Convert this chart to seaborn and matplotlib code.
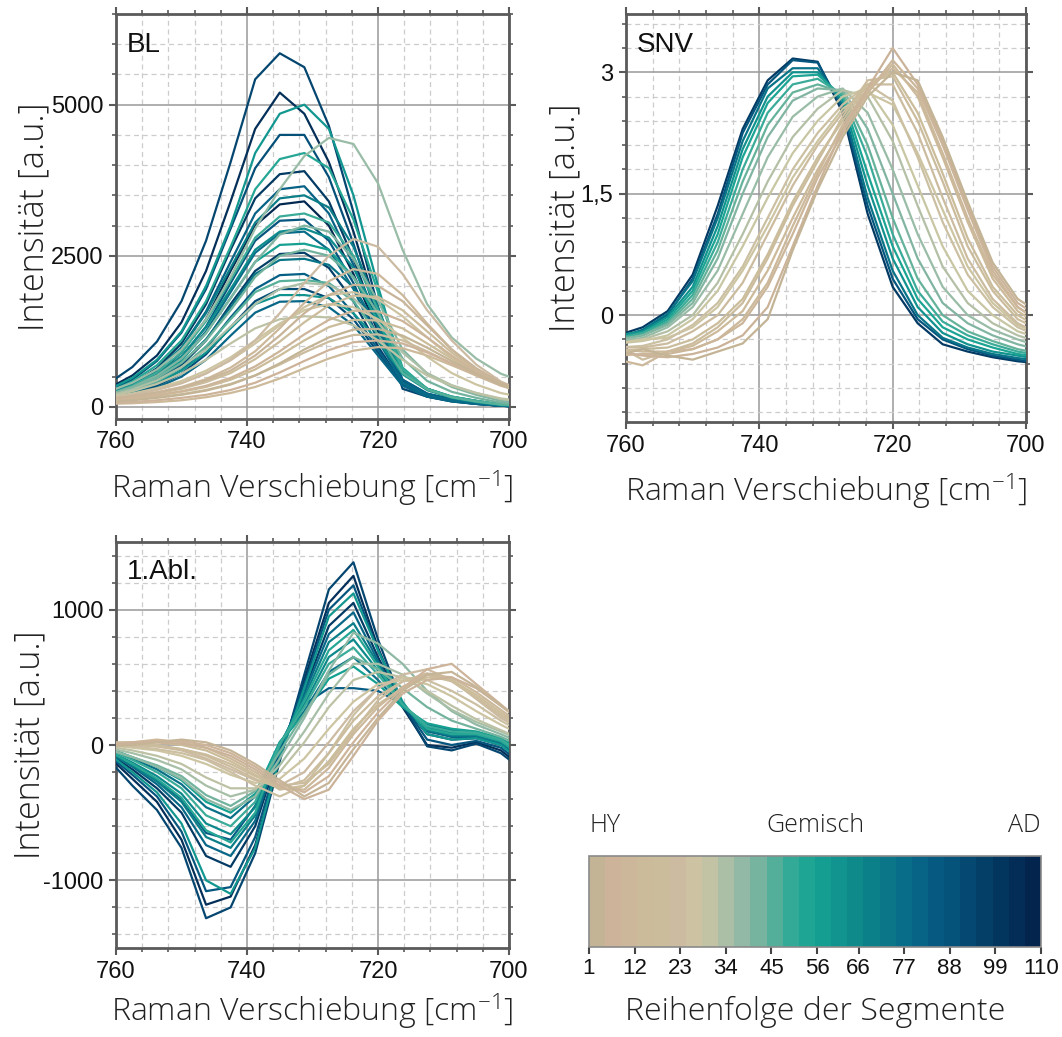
import numpy as np
import pandas as pd
import matplotlib
matplotlib.use("Agg")
import matplotlib.pyplot as plt
import seaborn as sns
from matplotlib.colors import LinearSegmentedColormap, Normalize
from matplotlib.cm import ScalarMappable
from matplotlib.ticker import MultipleLocator, FixedLocator, FixedFormatter

# Raman-Verschiebung der Messpunkte (cm-1)
SHIFT = [761.25, 757.5, 753.75, 750.0, 746.25, 742.5, 738.75, 735.0, 731.25,
         727.5, 723.75, 720.0, 716.25, 712.5, 708.75, 705.0, 701.25, 697.5]

# --- BL (Basislinienkorrektur) ---
BL_SEG = [105, 95, 90, 100, 82, 108, 88, 78, 98, 84, 92, 80,
          60, 52, 70, 48, 65, 56, 74, 45, 62,
          36, 40, 33, 42, 30,
          22, 10, 3, 17, 26, 7, 14, 1, 20, 5, 25, 12]
BL_VAL = [
    [300, 520, 850, 1400, 2250, 3400, 4600, 5200, 4850, 4050, 2900, 1550, 400, 200, 120, 70, 30, 10],
    [380, 660, 1080, 1750, 2750, 4050, 5420, 5850, 5620, 4650, 3220, 1650, 300, 170, 100, 60, 20, 10],
    [260, 450, 760, 1230, 1950, 2950, 3950, 4500, 4500, 3800, 2700, 1450, 450, 220, 130, 70, 30, 10],
    [220, 380, 640, 1050, 1700, 2600, 3450, 3850, 3900, 3400, 2450, 1350, 420, 200, 110, 60, 20, 10],
    [200, 350, 600, 980, 1580, 2400, 3200, 3600, 3650, 3200, 2350, 1300, 450, 220, 120, 60, 20, 10],
    [180, 320, 540, 900, 1450, 2250, 3000, 3350, 3400, 3000, 2200, 1250, 420, 200, 120, 60, 20, 0],
    [170, 300, 500, 820, 1330, 2050, 2750, 3080, 3100, 2750, 2050, 1150, 400, 200, 110, 60, 20, 0],
    [160, 280, 470, 770, 1250, 1900, 2550, 2870, 2900, 2600, 1950, 1100, 400, 200, 110, 60, 20, 0],
    [150, 260, 420, 690, 1100, 1700, 2250, 2530, 2550, 2300, 1750, 1000, 380, 180, 100, 50, 20, 0],
    [140, 240, 380, 610, 970, 1480, 1950, 2180, 2200, 2000, 1550, 950, 380, 180, 100, 50, 20, 0],
    [130, 220, 350, 550, 870, 1320, 1750, 1950, 1950, 1800, 1450, 900, 360, 170, 90, 50, 20, 0],
    [120, 200, 320, 500, 780, 1180, 1560, 1740, 1750, 1650, 1350, 850, 350, 170, 90, 50, 20, 0],
    [280, 480, 780, 1250, 2000, 3000, 4200, 4850, 5000, 4600, 3500, 2000, 600, 280, 150, 80, 30, 10],
    [240, 420, 690, 1100, 1750, 2650, 3600, 4100, 4200, 3950, 3100, 1900, 650, 300, 160, 90, 40, 10],
    [220, 380, 620, 980, 1550, 2300, 3050, 3450, 3500, 3300, 2650, 1650, 600, 300, 160, 90, 40, 10],
    [200, 350, 570, 900, 1420, 2100, 2800, 3150, 3200, 3050, 2500, 1600, 620, 300, 170, 100, 40, 20],
    [190, 330, 530, 840, 1320, 1950, 2600, 2900, 2950, 2800, 2300, 1500, 600, 300, 170, 100, 40, 20],
    [180, 310, 500, 780, 1220, 1800, 2400, 2680, 2700, 2600, 2150, 1420, 600, 300, 170, 100, 40, 20],
    [170, 290, 460, 720, 1120, 1650, 2200, 2430, 2450, 2350, 1980, 1330, 580, 290, 160, 90, 40, 20],
    [160, 270, 420, 650, 1000, 1450, 1900, 2080, 2100, 2050, 1750, 1200, 560, 290, 160, 90, 40, 20],
    [150, 250, 390, 600, 900, 1300, 1700, 1850, 1850, 1800, 1550, 1100, 540, 280, 160, 90, 40, 20],
    [250, 400, 620, 950, 1450, 2150, 2950, 3600, 4150, 4450, 4350, 3700, 2600, 1700, 1150, 800, 550, 400],
    [200, 330, 520, 800, 1220, 1800, 2400, 2850, 3000, 2900, 2450, 1750, 950, 550, 330, 200, 100, 50],
    [180, 290, 440, 660, 950, 1330, 1700, 1950, 2050, 2020, 1800, 1400, 900, 560, 360, 230, 130, 80],
    [190, 310, 480, 730, 1100, 1600, 2150, 2500, 2600, 2500, 2150, 1550, 800, 430, 250, 150, 70, 30],
    [170, 260, 380, 550, 780, 1050, 1300, 1450, 1500, 1480, 1350, 1100, 780, 520, 350, 230, 140, 90],
    [140, 200, 280, 390, 550, 780, 1100, 1550, 2050, 2500, 2780, 2650, 2200, 1600, 1100, 700, 420, 250],
    [120, 170, 240, 330, 460, 650, 920, 1300, 1720, 2080, 2280, 2200, 1850, 1380, 950, 620, 380, 230],
    [130, 180, 240, 320, 440, 600, 850, 1180, 1550, 1850, 2020, 2000, 1750, 1350, 950, 640, 400, 250],
    [110, 160, 220, 300, 410, 560, 790, 1080, 1400, 1680, 1840, 1820, 1600, 1250, 900, 600, 380, 240],
    [150, 220, 310, 430, 600, 820, 1100, 1380, 1600, 1700, 1650, 1450, 1150, 830, 560, 370, 230, 150],
    [100, 140, 190, 260, 350, 480, 670, 920, 1200, 1440, 1590, 1580, 1420, 1150, 850, 580, 370, 230],
    [100, 140, 190, 250, 330, 450, 620, 850, 1100, 1320, 1440, 1430, 1300, 1050, 800, 560, 370, 230],
    [80, 110, 150, 200, 270, 370, 520, 720, 950, 1150, 1280, 1290, 1180, 980, 760, 550, 370, 250],
    [90, 120, 160, 210, 280, 380, 520, 700, 900, 1080, 1190, 1200, 1100, 920, 720, 520, 350, 230],
    [60, 80, 110, 150, 200, 280, 400, 570, 760, 940, 1070, 1100, 1050, 900, 720, 530, 360, 240],
    [150, 210, 290, 400, 560, 770, 1050, 1350, 1650, 1850, 1900, 1780, 1500, 1150, 820, 560, 360, 230],
    [50, 60, 80, 110, 160, 230, 330, 470, 640, 800, 930, 990, 970, 850, 690, 520, 360, 240],
]

# --- SNV ---
SNV_SEG = [100, 88, 75, 62, 54, 48, 44, 40, 36, 32, 28,
           24, 20, 16, 12, 8, 4, 1, 18, 10, 26]
SNV_VAL = [
    [-0.25, -0.15, 0.05, 0.50, 1.35, 2.30, 2.90, 3.17, 3.13, 2.50, 1.25, 0.35, -0.10, -0.36, -0.45, -0.52, -0.57, -0.60],
    [-0.30, -0.20, 0.00, 0.45, 1.25, 2.25, 2.85, 3.15, 3.12, 2.55, 1.35, 0.45, -0.05, -0.30, -0.42, -0.50, -0.55, -0.60],
    [-0.28, -0.18, 0.02, 0.42, 1.20, 2.15, 2.80, 3.05, 3.05, 2.60, 1.45, 0.55, 0.00, -0.28, -0.40, -0.48, -0.53, -0.57],
    [-0.25, -0.20, -0.02, 0.35, 1.10, 2.05, 2.70, 3.00, 3.00, 2.65, 1.60, 0.70, 0.10, -0.22, -0.36, -0.45, -0.50, -0.55],
    [-0.30, -0.22, -0.05, 0.30, 1.00, 1.95, 2.62, 2.95, 2.97, 2.70, 1.75, 0.85, 0.20, -0.15, -0.30, -0.40, -0.48, -0.52],
    [-0.28, -0.22, -0.08, 0.25, 0.90, 1.80, 2.50, 2.85, 2.92, 2.72, 1.95, 1.00, 0.30, -0.08, -0.25, -0.36, -0.45, -0.50],
    [-0.30, -0.25, -0.10, 0.20, 0.80, 1.65, 2.35, 2.75, 2.85, 2.75, 2.10, 1.20, 0.45, 0.00, -0.20, -0.32, -0.42, -0.48],
    [-0.30, -0.25, -0.12, 0.15, 0.70, 1.50, 2.20, 2.65, 2.80, 2.78, 2.30, 1.50, 0.70, 0.15, -0.10, -0.25, -0.36, -0.44],
    [-0.32, -0.28, -0.15, 0.10, 0.55, 1.25, 1.95, 2.45, 2.70, 2.80, 2.50, 1.80, 1.00, 0.35, 0.00, -0.18, -0.30, -0.40],
    [-0.35, -0.30, -0.20, 0.00, 0.40, 1.00, 1.65, 2.20, 2.55, 2.78, 2.70, 2.15, 1.35, 0.60, 0.15, -0.10, -0.25, -0.35],
    [-0.35, -0.32, -0.25, -0.05, 0.30, 0.85, 1.45, 2.00, 2.40, 2.70, 2.80, 2.35, 1.60, 0.85, 0.30, 0.00, -0.20, -0.30],
    [-0.40, -0.38, -0.30, -0.12, 0.15, 0.60, 1.20, 1.80, 2.25, 2.60, 2.85, 2.65, 1.95, 1.15, 0.50, 0.10, -0.15, -0.28],
    [-0.40, -0.40, -0.35, -0.20, 0.00, 0.40, 1.00, 1.60, 2.10, 2.50, 2.85, 2.85, 2.25, 1.45, 0.70, 0.20, -0.10, -0.25],
    [-0.45, -0.42, -0.40, -0.30, -0.10, 0.20, 0.75, 1.40, 1.95, 2.40, 2.85, 3.00, 2.50, 1.75, 0.95, 0.35, 0.00, -0.18],
    [-0.42, -0.45, -0.45, -0.38, -0.20, 0.05, 0.55, 1.20, 1.80, 2.30, 2.75, 3.10, 2.70, 1.95, 1.15, 0.45, 0.05, -0.15],
    [-0.50, -0.48, -0.48, -0.42, -0.30, -0.10, 0.35, 1.00, 1.70, 2.25, 2.75, 3.15, 2.80, 2.10, 1.30, 0.55, 0.10, -0.10],
    [-0.45, -0.50, -0.52, -0.48, -0.40, -0.25, 0.10, 0.85, 1.60, 2.30, 2.80, 3.30, 2.85, 2.15, 1.35, 0.60, 0.15, -0.05],
    [-0.50, -0.42, -0.50, -0.55, -0.45, -0.35, -0.05, 0.80, 1.55, 2.20, 2.70, 3.00, 2.90, 2.20, 1.40, 0.65, 0.20, 0.00],
    [-0.38, -0.55, -0.45, -0.35, -0.15, 0.15, 0.70, 1.35, 1.90, 2.45, 2.90, 2.95, 2.40, 1.65, 0.85, 0.30, -0.05, -0.20],
    [-0.55, -0.62, -0.45, -0.42, -0.30, -0.05, 0.40, 1.10, 1.75, 2.35, 2.80, 3.05, 2.75, 2.00, 1.20, 0.50, 0.10, -0.12],
    [-0.35, -0.30, -0.28, -0.15, 0.10, 0.55, 1.10, 1.70, 2.15, 2.55, 2.75, 2.60, 2.00, 1.30, 0.60, 0.15, -0.12, -0.25],
]

# --- 1. Ableitung ---
ABL_SEG = [95, 105, 88, 60, 100, 80, 70, 52, 66, 48, 76, 56, 85,
           38, 42, 34, 30,
           26, 22, 18, 14, 10, 6, 2, 24, 4, 20]
ABL_VAL = [
    [-100, -300, -480, -760, -1280, -1200, -800, -120, 520, 1150, 1350, 780, 300, -10, -40, 10, -60, -200],
    [-80, -250, -420, -700, -1180, -1120, -740, -100, 480, 1050, 1250, 720, 280, 0, -20, 20, -40, -180],
    [-70, -220, -380, -640, -1080, -1050, -680, -70, 450, 1000, 1180, 700, 300, 40, 0, 30, -20, -160],
    [-60, -200, -350, -580, -1000, -1100, -760, -90, 420, 950, 1120, 700, 320, 80, 40, 50, 0, -140],
    [-60, -180, -320, -500, -820, -900, -600, -40, 400, 880, 1050, 650, 300, 80, 40, 50, 0, -130],
    [-50, -160, -290, -460, -740, -820, -560, -20, 380, 820, 980, 620, 300, 100, 60, 60, 10, -120],
    [-50, -150, -270, -420, -680, -760, -520, 0, 350, 760, 900, 600, 300, 110, 70, 70, 20, -110],
    [-40, -140, -250, -390, -630, -720, -500, 0, 330, 700, 850, 580, 300, 120, 80, 80, 30, -100],
    [-40, -130, -230, -360, -580, -660, -460, 0, 300, 650, 780, 550, 300, 130, 90, 80, 30, -90],
    [-30, -110, -200, -320, -520, -600, -420, 10, 280, 600, 720, 520, 300, 140, 100, 90, 40, -80],
    [-30, -100, -180, -290, -460, -540, -380, 20, 250, 540, 650, 480, 290, 150, 110, 90, 40, -70],
    [-20, -90, -160, -260, -420, -500, -360, 20, 230, 490, 580, 450, 280, 160, 120, 100, 50, -60],
    [-40, -150, -260, -400, -650, -700, -450, 0, 300, 420, 420, 400, 300, 120, 60, 60, 10, -100],
    [-30, -90, -160, -250, -400, -480, -380, -100, 200, 550, 830, 750, 600, 400, 250, 150, 80, 0],
    [-30, -90, -150, -230, -370, -450, -340, -50, 230, 520, 650, 560, 420, 280, 180, 120, 60, -20],
    [-20, -60, -110, -180, -300, -380, -330, -150, 100, 380, 600, 600, 520, 380, 260, 170, 100, 20],
    [-10, -40, -80, -140, -240, -320, -320, -200, 20, 280, 480, 540, 500, 400, 290, 190, 110, 30],
    [0, -20, -40, -80, -140, -220, -280, -250, -100, 120, 320, 450, 480, 450, 360, 250, 150, 60],
    [10, 0, -10, -40, -100, -180, -260, -300, -200, 20, 250, 420, 520, 560, 480, 340, 200, 100],
    [20, 10, 0, -30, -80, -160, -250, -320, -260, -60, 180, 360, 470, 520, 470, 350, 220, 110],
    [20, 20, 20, 0, -40, -120, -220, -330, -300, -120, 120, 300, 420, 500, 480, 370, 240, 120],
    [10, 20, 40, 20, -20, -100, -200, -320, -330, -170, 80, 280, 430, 520, 500, 390, 260, 130],
    [0, 20, 30, 30, 0, -60, -160, -280, -350, -230, 20, 240, 420, 560, 600, 450, 300, 150],
    [-10, 0, 20, 40, 20, -40, -140, -260, -380, -280, -30, 200, 400, 520, 540, 430, 290, 150],
    [0, -10, -30, -60, -110, -200, -300, -380, -300, -60, 220, 420, 500, 480, 400, 300, 180, 80],
    [0, 10, 20, 10, -20, -80, -180, -300, -400, -330, -80, 180, 380, 480, 500, 420, 290, 160],
    [10, 0, -10, -30, -70, -140, -230, -300, -280, -140, 100, 330, 470, 530, 480, 350, 220, 110],
]

CB_TICKS = [1, 12, 23, 34, 45, 56, 66, 77, 88, 99, 110]

# Farbverlauf HY (beige) -> Gemisch (tuerkis) -> AD (dunkelblau)
anchors = [(1, "#c4b496"), (5, "#cdb39a"), (15, "#cbbd9a"), (22, "#ccbba2"),
           (27, "#cdc8a2"), (31, "#b9c0a6"), (35, "#a0bea8"), (39, "#87b5a3"),
           (43, "#6cb39c"), (48, "#3aab98"), (55, "#16a392"), (61, "#11958f"),
           (67, "#0d878a"), (73, "#0a7787"), (79, "#086a88"), (85, "#065c84"),
           (91, "#054f78"), (97, "#04416a"), (103, "#03345d"), (110, "#02244d")]
cmap = LinearSegmentedColormap.from_list(
    "segmente", [((s - 1) / 109, c) for s, c in anchors])

sns.set_style("white")
plt.rcParams["axes.unicode_minus"] = False
plt.rcParams["mathtext.fontset"] = "custom"
plt.rcParams["mathtext.rm"] = "Open Sans:light"
plt.rcParams["mathtext.default"] = "regular"

TICK_FONT = "Liberation Sans"
LABEL_FONT = "Open Sans"
FRAME = "#5a5a5a"


def make_df(segs, vals):
    rows = []
    for s, v in zip(segs, vals):
        for x, y in zip(SHIFT, v):
            rows.append((s, x, y))
    return pd.DataFrame(rows, columns=["segment", "shift", "value"])


def draw_panel(ax, segs, vals, ylim, ymajor, yminor, name, yfmt=None,
               ylab_x=-0.16, xlab_y=-0.122, name_y=0.955):
    df = make_df(segs, vals)
    sns.lineplot(data=df, x="shift", y="value", hue="segment", units="segment",
                 estimator=None, sort=False, palette=cmap, hue_norm=(1, 110),
                 legend=False, lw=1.6, ax=ax)
    lines = ax.get_lines()
    n = len(lines)
    for i, ln in enumerate(lines):
        ln.set_zorder(3 + 0.01 * (n - i))  # beige oben

    ax.set_xlim(760, 700)
    ax.set_ylim(*ylim)
    ax.xaxis.set_major_locator(FixedLocator([760, 740, 720, 700]))
    ax.xaxis.set_minor_locator(MultipleLocator(4))
    ax.yaxis.set_major_locator(FixedLocator(ymajor))
    ax.yaxis.set_minor_locator(MultipleLocator(yminor))
    if yfmt is not None:
        ax.yaxis.set_major_formatter(FixedFormatter(yfmt))

    ax.set_axisbelow(True)
    ax.grid(which="major", color="#999999", lw=1.1, ls="-")
    ax.grid(which="minor", color="#cccccc", lw=0.9, ls=(0, (4, 3)))
    for sp in ax.spines.values():
        sp.set_color(FRAME)
        sp.set_linewidth(2)
        sp.set_visible(True)
    ax.tick_params(which="both", direction="out", color=FRAME,
                   top=True, right=True, bottom=True, left=True)
    ax.tick_params(which="major", length=5, width=1.5, labelsize=17, pad=4)
    ax.tick_params(which="minor", length=3, width=1.2)
    for lab in ax.get_xticklabels() + ax.get_yticklabels():
        lab.set_fontfamily(TICK_FONT)
        lab.set_color("#111111")

    ax.set_xlabel("Raman Verschiebung [cm$^{-1}$]", fontsize=23,
                  fontfamily=LABEL_FONT, fontweight="light", color="#222222")
    ax.set_ylabel("Intensität [a.u.]", fontsize=24.5,
                  fontfamily=LABEL_FONT, fontweight="light", color="#222222")
    ax.xaxis.set_label_coords(0.5, xlab_y)
    ax.yaxis.set_label_coords(ylab_x, 0.5)
    ax.text(0.028, name_y, name, transform=ax.transAxes, ha="left", va="top",
            fontsize=20, fontfamily=TICK_FONT, color="#111111")


fig = plt.figure(figsize=(10.62, 10.37), dpi=100)
W, H = 1062, 1037


def rect(l, t, r, b):
    return [l / W, 1 - b / H, (r - l) / W, (b - t) / H]


ax_bl = fig.add_axes(rect(116, 14, 509, 419))
ax_snv = fig.add_axes(rect(626, 14, 1026, 422))
ax_abl = fig.add_axes(rect(116, 542, 509, 948))
cax = fig.add_axes(rect(589, 856, 1041, 947))

draw_panel(ax_bl, BL_SEG, BL_VAL, (-200, 6500), [0, 2500, 5000], 500, "BL",
           ylab_x=-0.165)
draw_panel(ax_snv, SNV_SEG, SNV_VAL, (-1.32, 3.72), [0, 1.5, 3], 0.3, "SNV",
           yfmt=["0", "1,5", "3"], ylab_x=-0.11)
draw_panel(ax_abl, ABL_SEG, ABL_VAL, (-1500, 1500), [-1000, 0, 1000], 200,
           "1.Abl.", ylab_x=-0.175, xlab_y=-0.108, name_y=0.958)

# Farbskala
sm = ScalarMappable(norm=Normalize(1, 110), cmap=cmap.resampled(28))
cb = fig.colorbar(sm, cax=cax, orientation="horizontal", ticks=CB_TICKS)
cb.outline.set_edgecolor("#8a8a8a")
cb.outline.set_linewidth(1.2)
cax.tick_params(length=5, width=1.5, color="#444444", labelsize=16, pad=3)
for lab in cax.get_xticklabels():
    lab.set_fontfamily(TICK_FONT)
    lab.set_color("#111111")
cax.set_xlabel("Reihenfolge der Segmente", fontsize=23, fontfamily=LABEL_FONT,
               fontweight="light", color="#222222", labelpad=12)
for xpos, txt, ha in [(0.0, "HY", "left"), (0.5, "Gemisch", "center"),
                      (1.0, "AD", "right")]:
    cax.text(xpos, 1.2, txt, transform=cax.transAxes, ha=ha, va="bottom",
             fontsize=18, fontfamily=LABEL_FONT, fontweight="light",
             color="#222222")

fig.savefig("out.png", dpi=100)
